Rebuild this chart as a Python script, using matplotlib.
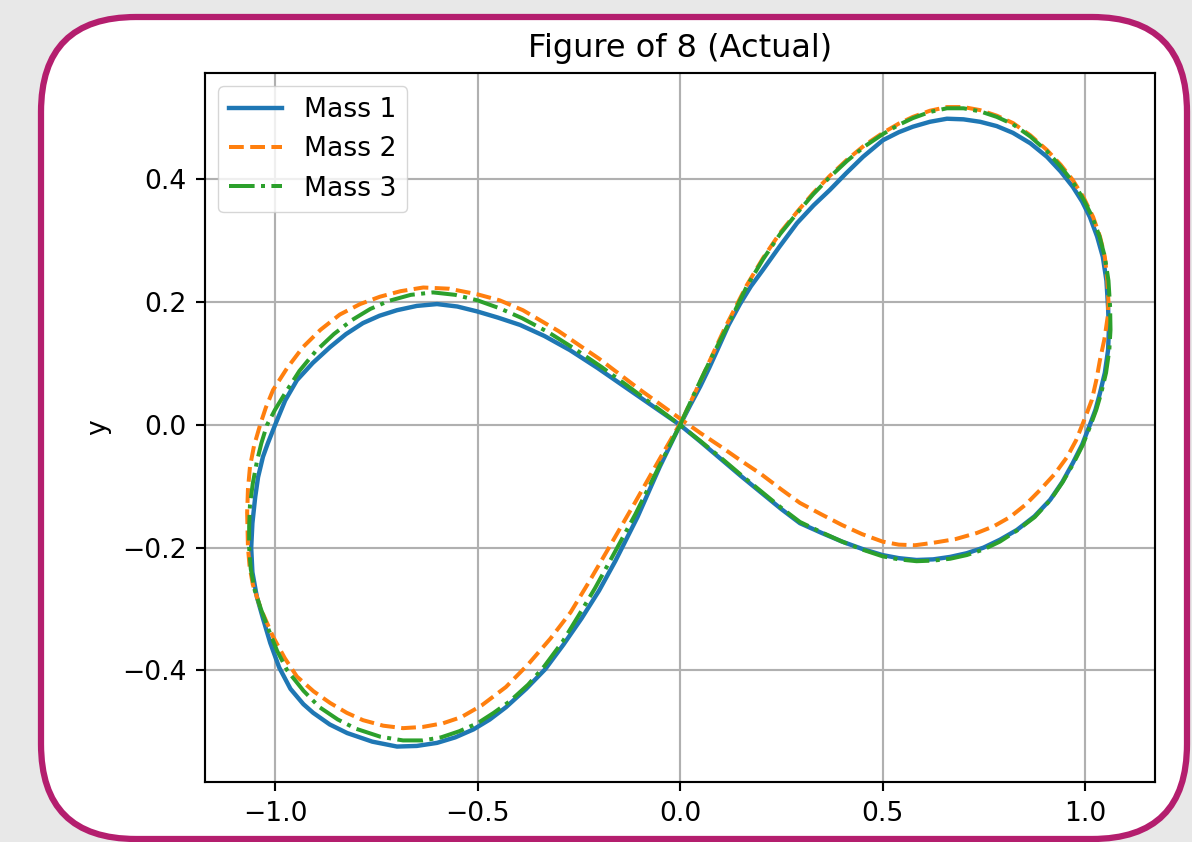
import matplotlib.pyplot as plt
from matplotlib.patches import FancyBboxPatch

plt.switch_backend("AGG")

TITLE = "Figure of 8 (Actual)"
LABELS = ["Mass 1", "Mass 2", "Mass 3"]

# each orbit: right lobe from the crossing, then the left lobe back to it
mass1_x = [0.0, 0.025, 0.05, 0.072, 0.092, 0.12, 0.148, 0.175, 0.205, 0.245, 0.289,
           0.33, 0.37, 0.41, 0.452, 0.501, 0.54, 0.575, 0.617, 0.659, 0.70, 0.741,
           0.782, 0.822, 0.865, 0.906, 0.94, 0.97, 0.993, 1.012, 1.03, 1.044, 1.053,
           1.057, 1.059, 1.057, 1.049, 1.037, 1.026, 1.012, 0.993, 0.97, 0.944,
           0.914, 0.875, 0.832, 0.79, 0.749, 0.708, 0.667, 0.625, 0.584, 0.54, 0.50,
           0.45, 0.40, 0.35, 0.296, 0.25, 0.20, 0.15, 0.10, 0.05, 0.0,
           -0.068, -0.136, -0.204, -0.272, -0.335, -0.395, -0.45, -0.501, -0.55,
           -0.60, -0.65, -0.699, -0.742, -0.783, -0.825, -0.864, -0.907, -0.946,
           -0.975, -1.0, -1.018, -1.03, -1.042, -1.049, -1.056, -1.059, -1.056,
           -1.045, -1.03, -1.012, -0.99, -0.962, -0.93, -0.906, -0.865, -0.822, -0.76,
           -0.699, -0.65, -0.60, -0.555, -0.51, -0.47, -0.43, -0.38, -0.333, -0.288,
           -0.243, -0.20, -0.16, -0.105, -0.05, 0.0]
mass1_y = [0.0, 0.032, 0.063, 0.093, 0.122, 0.163, 0.197, 0.226, 0.253, 0.29, 0.329,
           0.358, 0.383, 0.41, 0.437, 0.464, 0.477, 0.486, 0.494, 0.499, 0.498, 0.494,
           0.487, 0.476, 0.459, 0.437, 0.413, 0.388, 0.364, 0.339, 0.307, 0.274, 0.235,
           0.192, 0.155, 0.122, 0.085, 0.052, 0.025, 0.0, -0.032, -0.062, -0.093,
           -0.122, -0.149, -0.171, -0.187, -0.20, -0.209, -0.215, -0.219, -0.22, -0.217,
           -0.212, -0.202, -0.19, -0.176, -0.16, -0.137, -0.11, -0.083, -0.055, -0.027, 0.0,
           0.031, 0.062, 0.093, 0.122, 0.145, 0.163, 0.175, 0.185, 0.193,
           0.197, 0.194, 0.187, 0.178, 0.166, 0.148, 0.127, 0.101, 0.073,
           0.04, 0.0, -0.03, -0.052, -0.085, -0.117, -0.16, -0.20, -0.24,
           -0.28, -0.315, -0.355, -0.395, -0.43, -0.455, -0.469, -0.488, -0.502, -0.516,
           -0.524, -0.523, -0.518, -0.509, -0.496, -0.48, -0.46, -0.43, -0.398, -0.358,
           -0.315, -0.27, -0.222, -0.15, -0.068, 0.0]

mass2_x = [0.005, 0.04, 0.075, 0.11, 0.165, 0.205, 0.247, 0.29, 0.329, 0.37, 0.412,
           0.456, 0.501, 0.54, 0.575, 0.617, 0.659, 0.70, 0.741, 0.782, 0.822, 0.865,
           0.906, 0.94, 0.97, 0.997, 1.02, 1.037, 1.049, 1.055, 1.058, 1.056, 1.048,
           1.037, 1.028, 1.017, 1.005, 0.995, 0.978, 0.956, 0.925, 0.889, 0.853,
           0.815, 0.775, 0.733, 0.68, 0.625, 0.58, 0.54, 0.50, 0.45, 0.40, 0.35,
           0.296, 0.25, 0.20, 0.15, 0.10, 0.05, 0.005,
           -0.10, -0.20, -0.30, -0.388, -0.445, -0.501, -0.57, -0.634, -0.69, -0.741,
           -0.79, -0.84, -0.888, -0.931, -0.97, -1.005, -1.023, -1.037, -1.052, -1.062,
           -1.067, -1.069, -1.068, -1.067, -1.063, -1.055, -1.035, -1.005, -0.976,
           -0.946, -0.905, -0.864, -0.823, -0.783, -0.733, -0.684, -0.635, -0.585,
           -0.54, -0.49, -0.43, -0.375, -0.32, -0.27, -0.225, -0.18, -0.11, -0.05, 0.005]
mass2_y = [0.008, 0.057, 0.107, 0.157, 0.228, 0.272, 0.313, 0.348, 0.378, 0.406, 0.432,
           0.456, 0.476, 0.491, 0.502, 0.512, 0.518, 0.518, 0.513, 0.504, 0.492, 0.472,
           0.448, 0.424, 0.399, 0.37, 0.339, 0.307, 0.274, 0.237, 0.20, 0.176, 0.14,
           0.106, 0.073, 0.041, 0.02, 0.003, -0.025, -0.052, -0.08, -0.106, -0.13,
           -0.15, -0.165, -0.176, -0.186, -0.192, -0.196, -0.195, -0.19, -0.178, -0.163,
           -0.146, -0.127, -0.105, -0.08, -0.058, -0.035, -0.013, 0.008,
           0.058, 0.108, 0.153, 0.187, 0.203, 0.213, 0.222, 0.224, 0.218, 0.209,
           0.197, 0.18, 0.155, 0.127, 0.093, 0.057, 0.028, 0.0, -0.034, -0.068,
           -0.105, -0.143, -0.17, -0.199, -0.23, -0.26, -0.30, -0.345, -0.38,
           -0.41, -0.434, -0.453, -0.469, -0.481, -0.49, -0.494, -0.492, -0.486,
           -0.476, -0.457, -0.427, -0.39, -0.348, -0.305, -0.256, -0.205, -0.125, -0.055, 0.008]

mass3_x = [0.0, 0.04, 0.08, 0.12, 0.165, 0.205, 0.247, 0.29, 0.329, 0.37, 0.412, 0.456,
           0.501, 0.54, 0.575, 0.617, 0.659, 0.70, 0.741, 0.782, 0.822, 0.865, 0.906,
           0.94, 0.97, 0.996, 1.018, 1.036, 1.049, 1.058, 1.062, 1.063, 1.06, 1.052,
           1.04, 1.028, 1.014, 0.995, 0.972, 0.945, 0.915, 0.876, 0.832, 0.79, 0.749,
           0.708, 0.667, 0.625, 0.584, 0.54, 0.50, 0.45, 0.40, 0.35, 0.296, 0.25,
           0.20, 0.15, 0.10, 0.05, 0.0,
           -0.065, -0.13, -0.195, -0.26, -0.325, -0.39, -0.445, -0.50, -0.555, -0.61,
           -0.665, -0.72, -0.765, -0.81, -0.855, -0.90, -0.94, -0.975, -1.0, -1.02,
           -1.034, -1.045, -1.055, -1.062, -1.064, -1.064, -1.06, -1.05, -1.035,
           -1.015, -0.995, -0.97, -0.93, -0.89, -0.845, -0.80, -0.74, -0.684, -0.635,
           -0.59, -0.545, -0.50, -0.46, -0.42, -0.375, -0.335, -0.29, -0.25, -0.21,
           -0.17, -0.11, -0.055, 0.0]
mass3_y = [0.0, 0.058, 0.113, 0.165, 0.226, 0.27, 0.311, 0.346, 0.376, 0.404, 0.43, 0.454,
           0.474, 0.489, 0.50, 0.51, 0.516, 0.516, 0.511, 0.502, 0.49, 0.47, 0.446,
           0.421, 0.396, 0.368, 0.339, 0.307, 0.274, 0.235, 0.192, 0.155, 0.122, 0.085,
           0.052, 0.025, 0.0, -0.032, -0.062, -0.093, -0.122, -0.15, -0.172, -0.19, -0.203,
           -0.212, -0.218, -0.221, -0.222, -0.219, -0.214, -0.203, -0.19, -0.175, -0.158, -0.135,
           -0.108, -0.081, -0.053, -0.026, 0.0,
           0.032, 0.064, 0.095, 0.124, 0.151, 0.174, 0.19, 0.203, 0.212, 0.216,
           0.212, 0.202, 0.189, 0.171, 0.148, 0.12, 0.088, 0.052, 0.025, 0.0,
           -0.03, -0.06, -0.095, -0.13, -0.165, -0.20, -0.235, -0.27, -0.30,
           -0.335, -0.368, -0.40, -0.433, -0.46, -0.48, -0.495, -0.508, -0.514, -0.514,
           -0.509, -0.499, -0.486, -0.469, -0.45, -0.423, -0.393, -0.353, -0.31, -0.266,
           -0.218, -0.145, -0.072, 0.0]

S = 1.92  # the screenshot is an enlarged notebook figure

plt.rcParams.update({
    "font.family": ["DejaVu Sans"],
    "font.size": 10 * S,
    "axes.linewidth": 0.8 * S,
    "xtick.major.width": 0.8 * S,
    "ytick.major.width": 0.8 * S,
    "xtick.major.size": 3.5 * S,
    "ytick.major.size": 3.5 * S,
    "xtick.major.pad": 3.5 * S,
    "ytick.major.pad": 3.5 * S,
    "grid.linewidth": 0.8 * S,
    "lines.solid_joinstyle": "round",
    "lines.dash_joinstyle": "round",
})

fig = plt.figure(figsize=(11.92, 8.42), dpi=100)
fig.patch.set_facecolor("#e8e8e8")

# card behind the chart
card = FancyBboxPatch((41, 3), 1146, 822, boxstyle="round,pad=0,rounding_size=95",
                      transform=None, facecolor="white", edgecolor="#b41e6e",
                      linewidth=4.5, zorder=-10)
fig.patches.append(card)

ax = fig.add_axes([0.172, 0.0713, 0.797, 0.842])
ax.set_zorder(1)
ax.plot(mass1_x, mass1_y, color="#1f77b4", linestyle="-", linewidth=1.5 * S * 1.1, label=LABELS[0])
ax.plot(mass2_x, mass2_y, color="#ff7f0e", linestyle="--", linewidth=1.5 * S, label=LABELS[1])
ax.plot(mass3_x, mass3_y, color="#2ca02c", linestyle="-.", linewidth=1.5 * S, label=LABELS[2])

ax.set_xlim(-1.173, 1.173)
ax.set_ylim(-0.5817, 0.5735)
ax.set_xticks([-1.0, -0.5, 0.0, 0.5, 1.0])
ax.set_yticks([-0.4, -0.2, 0.0, 0.2, 0.4])
ax.grid(True)
ax.set_title(TITLE, fontsize=12 * S, pad=6 * S)
ax.set_xlabel("x", labelpad=4 * S)
ax.set_ylabel("y", labelpad=4 * S)
ax.legend(loc="upper left", fontsize=10 * S, borderaxespad=0.5, handlelength=2.0)

fig.savefig("out.png", dpi=100, facecolor=fig.get_facecolor())
